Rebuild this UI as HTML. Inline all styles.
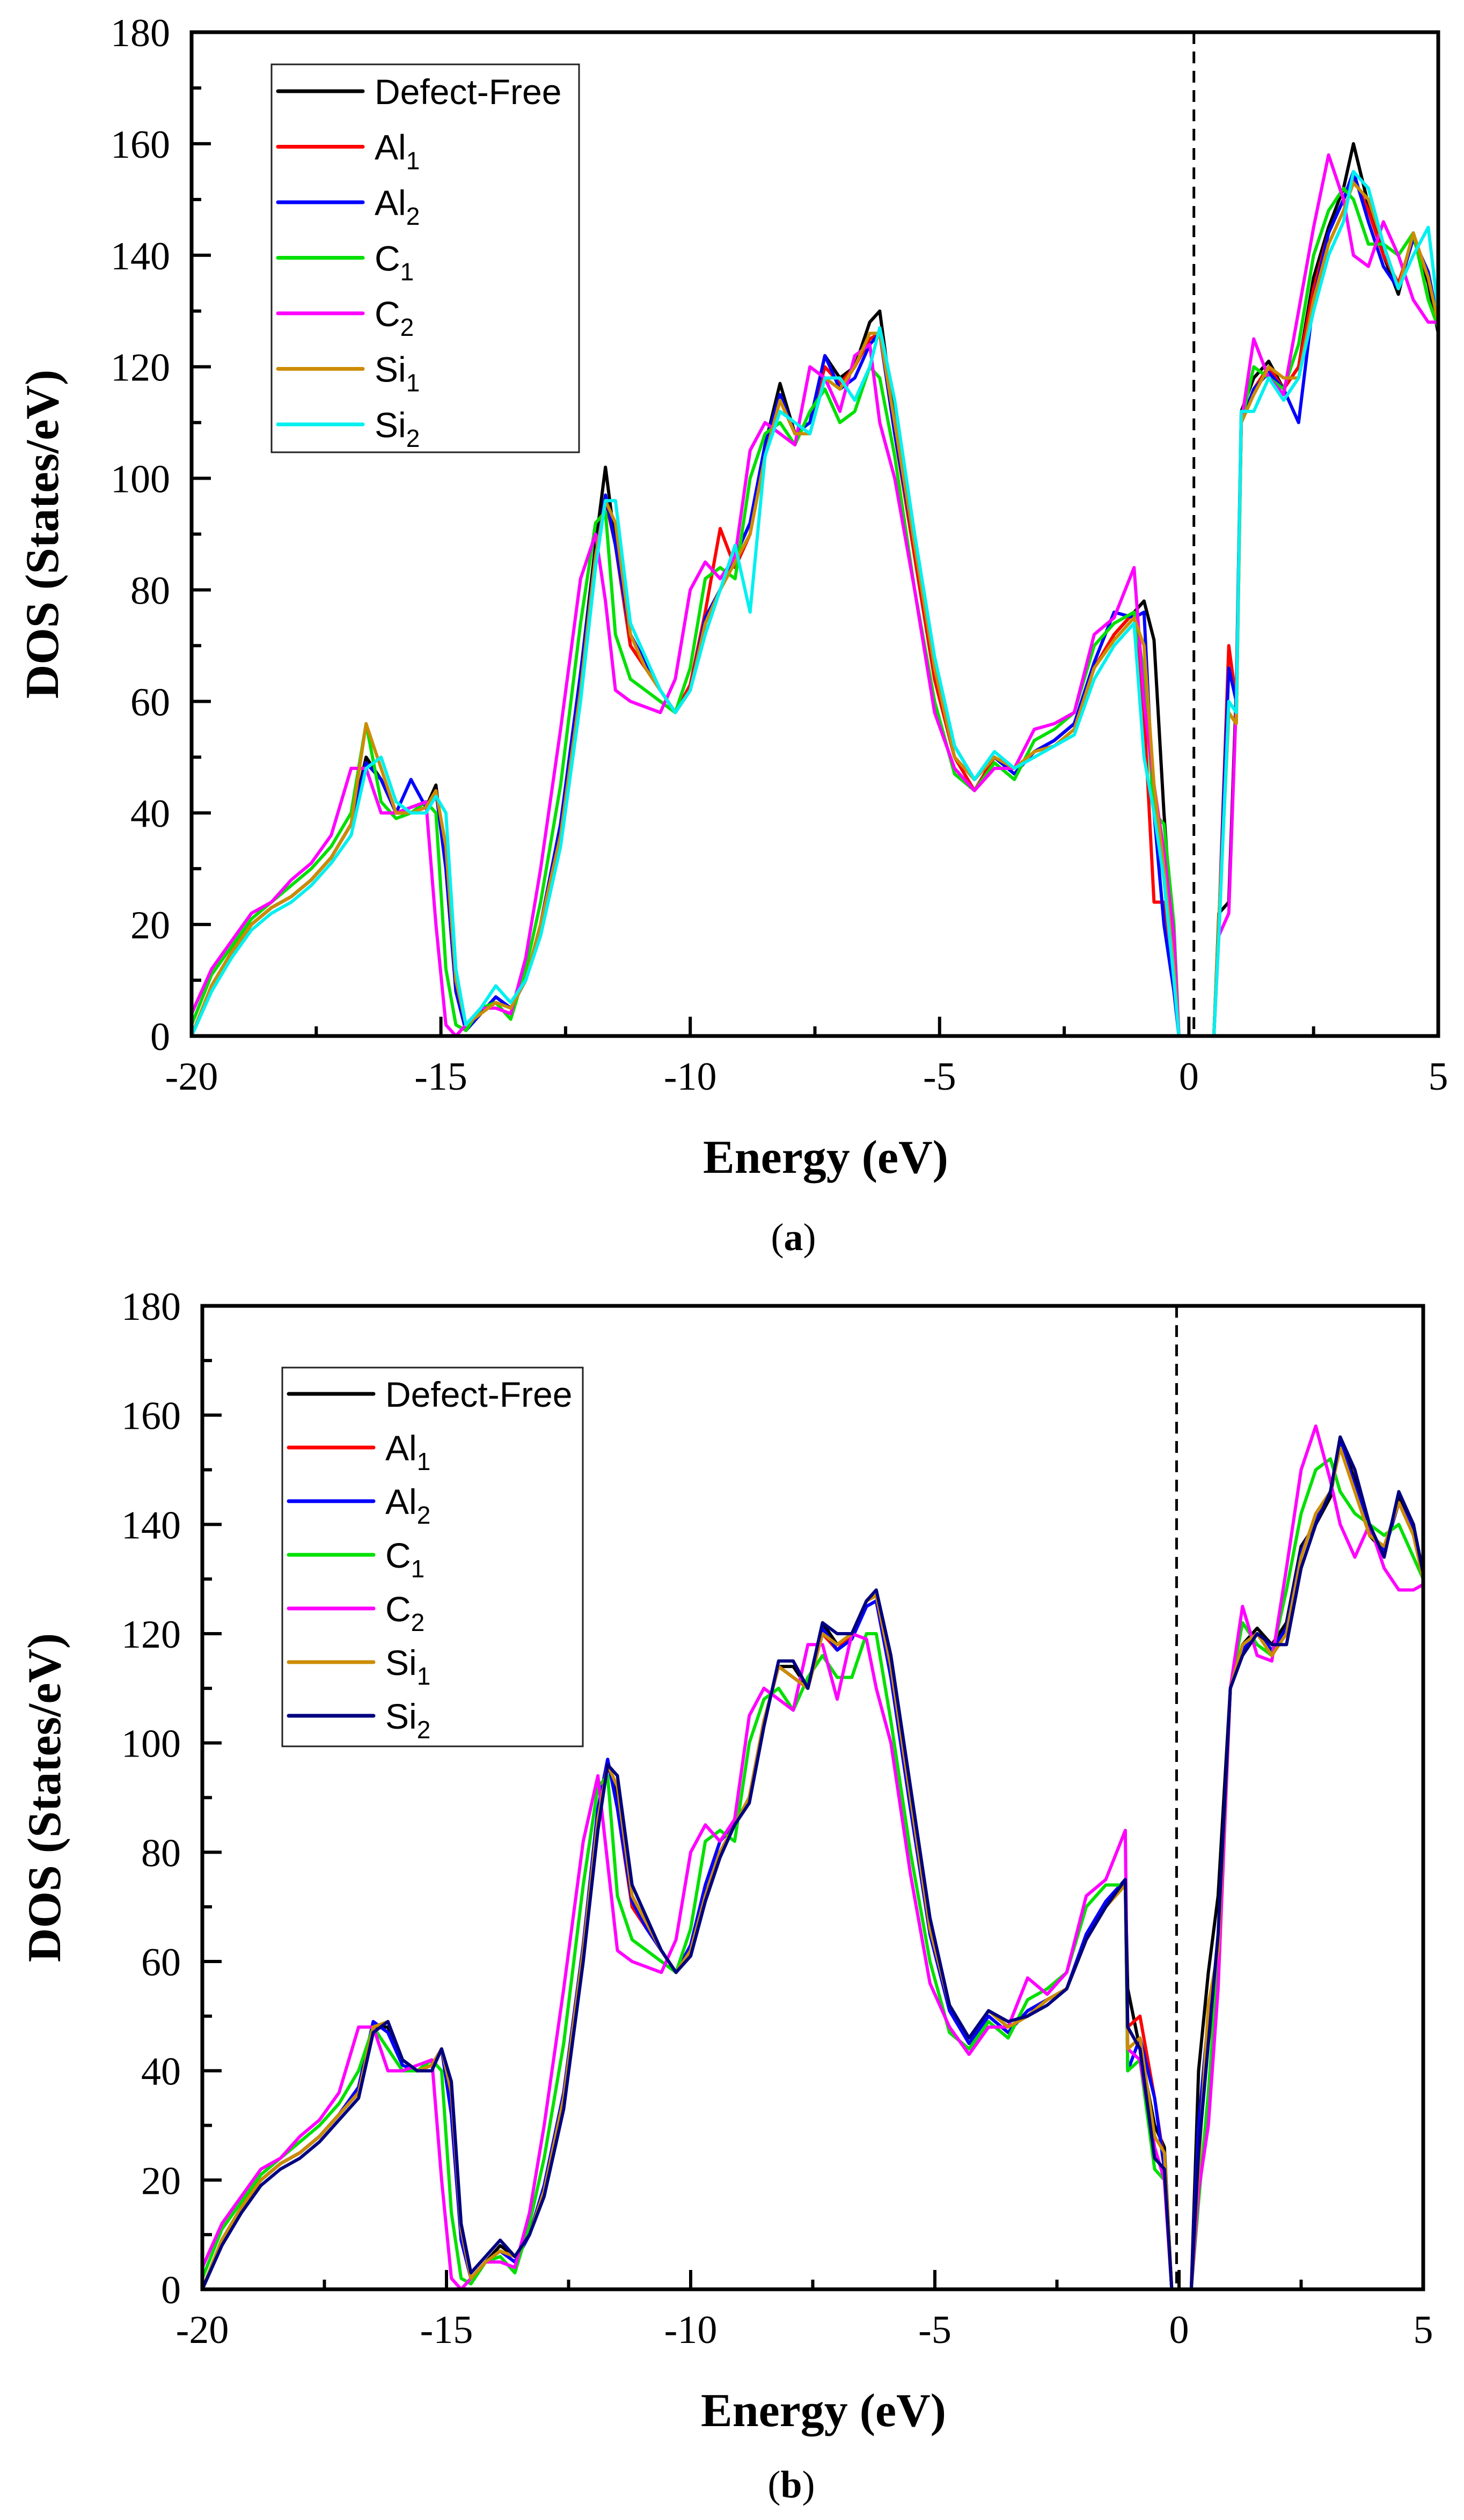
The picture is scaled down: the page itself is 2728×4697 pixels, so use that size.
<!DOCTYPE html>
<html><head><meta charset="utf-8">
<style>
html,body{margin:0;padding:0;background:#fff;}
svg{display:block;}
</style></head>
<body>
<svg id="fig" width="2728" height="4697" viewBox="0 0 2728 4697" xmlns="http://www.w3.org/2000/svg"></svg>
<script>
// ---- Shared energy grids (eV) ----
const gridA = [-20,-19.6,-19.2,-18.8,-18.4,-18,-17.6,-17.2,-16.8,-16.5,-16.2,-15.9,-15.6,-15.3,-15.1,-14.9,-14.7,-14.5,-14.2,-13.9,-13.6,-13.3,-13,-12.6,-12.2,-11.9,-11.7,-11.5,-11.2,-10.9,-10.6,-10.3,-10,-9.7,-9.4,-9.1,-8.8,-8.5,-8.2,-7.9,-7.6,-7.3,-7,-6.7,-6.4,-6.2,-5.9,-5.5,-5.1,-4.7,-4.3,-3.9,-3.5,-3.1,-2.7,-2.3,-1.9,-1.5,-1.1,
 -0.9,-0.7,-0.5,-0.3,-0.2,0.5,0.6,0.8,0.95,1.05,
 1.3,1.6,1.9,2.2,2.5,2.8,3.1,3.3,3.6,3.9,4.2,4.5,4.8,5];
const gridB = [-20,-19.6,-19.2,-18.8,-18.4,-18,-17.6,-17.2,-16.8,-16.5,-16.2,-15.9,-15.6,-15.3,-15.1,-14.9,-14.7,-14.5,-14.2,-13.9,-13.6,-13.3,-13,-12.6,-12.2,-11.9,-11.7,-11.5,-11.2,-10.9,-10.6,-10.3,-10,-9.7,-9.4,-9.1,-8.8,-8.5,-8.2,-7.9,-7.6,-7.3,-7,-6.7,-6.4,-6.2,-5.9,-5.5,-5.1,-4.7,-4.3,-3.9,-3.5,-3.1,-2.7,-2.3,-1.9,-1.5,-1.1,
 -1.05,-0.8,-0.5,-0.3,-0.15,0.25,0.4,0.6,0.8,1.05,
 1.3,1.6,1.9,2.2,2.5,2.8,3.1,3.3,3.6,3.9,4.2,4.5,4.8,5];

// ---- Panel (a) series ----
const aDefectFree = [0,9,15,20,23,25,28,32,38,50,46,40,40,41,45,30,8,1,4,7,5,10,20,38,65,88,102,88,70,66,62,58,62,75,80,86,92,106,117,108,110,122,118,120,128,130,110,86,64,50,46,50,47,51,53,56,66,72,76, 78,71,40,15,0,0,22,24,62,112, 118,121,116,120,136,145,152,160,149,140,133,144,135,126];
const aAl1 = [0,9,15,20,23,25,28,32,38,49,46,40,40,41,44,30,8,1,4,7,5,10,20,38,65,86,96,88,70,66,62,58,63,76,91,84,90,104,114,108,110,120,117,120,125,126,108,86,64,50,44,50,47,51,53,56,66,72,76, 58,24,24,12,0,0,20,70,60,110, 116,120,116,120,134,144,150,154,148,140,135,143,136,128];
const aAl2 = [0,9,15,20,23,25,28,32,38,49,46,40,46,41,44,30,8,1,4,7,5,10,20,38,65,86,97,88,72,67,62,58,62,75,80,86,92,106,115,108,110,122,116,118,124,126,108,88,66,52,46,50,47,51,53,56,67,76,75, 76,40,20,8,0,0,20,66,60,110, 116,119,116,110,132,144,150,155,146,138,134,143,137,128];
const aC1 = [2,11,16,21,24,27,30,34,40,56,42,39,40,42,40,12,2,1,5,6,3,12,24,45,74,92,94,72,64,62,60,58,66,82,84,82,100,108,110,106,112,116,110,112,120,118,104,80,60,47,44,49,46,53,55,58,70,74,76, 65,40,38,20,0,0,20,58,56,110, 120,118,116,124,140,148,152,150,142,142,140,144,132,127];
const aC2 = [4,12,17,22,24,28,31,36,48,48,40,40,41,42,20,2,0,2,5,5,4,14,30,55,82,90,78,62,60,59,58,64,80,85,82,86,105,110,108,106,120,118,112,122,124,110,100,80,58,48,44,48,48,55,56,58,72,75,84, 60,45,33,18,0,0,18,22,60,110, 125,118,115,130,145,158,150,140,138,146,140,132,128,128];
const aSi1 = [0,9,15,20,23,25,28,32,38,56,48,40,40,41,44,34,10,2,4,6,5,10,20,36,62,86,96,92,72,66,62,58,62,74,80,85,90,104,114,108,108,118,116,120,126,126,110,88,66,50,46,50,48,51,52,55,66,71,75, 70,45,30,12,0,0,21,58,56,110, 115,120,118,118,132,142,148,153,150,142,134,144,136,128];
const aSi2 = [0,8,14,19,22,24,27,31,36,48,50,42,40,40,43,40,12,2,5,9,6,10,18,34,60,84,96,96,74,68,62,58,62,72,80,88,76,104,112,110,108,118,118,114,120,127,114,90,68,52,46,51,48,50,52,54,64,70,74, 50,40,28,10,0,0,18,60,58,112, 112,118,114,118,130,140,146,155,152,142,134,140,145,130];

// ---- Panel (b) series ----
const bDefectFree = [0,9,15,20,23,25,28,32,36,48,48,41,40,41,44,34,10,2,5,8,6,10,18,35,62,86,96,90,72,67,62,58,62,72,80,85,90,104,114,114,110,122,118,120,126,127,114,90,66,52,46,51,48,50,53,55,64,70,75, 55,44,30,26,0,0,40,58,72,110, 118,121,118,122,136,140,145,156,148,138,135,145,140,130];
const bAl1 = [0,9,15,20,23,25,28,32,37,49,47,41,40,41,44,32,9,2,5,7,5,10,19,36,63,88,97,88,70,66,62,58,63,74,82,85,90,104,114,112,110,120,117,120,125,126,112,88,65,51,45,50,47,51,53,55,65,71,75, 48,50,35,23,0,0,30,45,60,110, 117,120,117,121,135,141,146,155,147,139,135,144,139,130];
const bAl2 = [0,9,15,20,23,25,28,32,37,49,47,41,40,41,44,32,9,2,5,7,5,10,19,36,63,88,97,88,71,66,62,58,63,74,82,85,90,104,114,112,110,121,117,119,125,126,112,88,65,51,45,50,47,51,53,55,65,71,75, 40,46,35,22,0,0,30,50,62,110, 117,120,117,121,135,141,146,155,147,139,135,144,139,130];
const bC1 = [2,11,16,21,24,27,30,34,40,48,44,40,40,42,40,14,2,1,5,6,3,12,24,45,74,92,94,72,64,62,60,58,66,82,84,82,100,108,110,106,112,116,112,112,120,120,104,80,60,47,44,49,46,53,55,58,70,74,74, 40,42,22,20,0,0,16,36,60,110, 122,118,116,128,142,150,152,146,142,140,138,140,134,130];
const bC2 = [4,12,17,22,24,28,31,36,48,48,40,40,41,42,20,2,0,2,5,5,4,14,30,55,82,94,78,62,60,59,58,64,80,85,82,86,105,110,108,106,118,118,108,120,119,110,100,76,56,48,43,48,48,57,54,58,72,75,84, 44,42,26,20,0,0,18,30,55,110, 125,116,115,132,150,158,148,140,134,140,132,128,128,129];
const bSi1 = [0,9,15,20,23,25,28,32,36,48,49,42,40,41,44,36,11,2,5,7,6,10,18,35,62,86,96,92,72,67,62,58,62,72,80,85,90,104,114,112,110,120,118,120,126,127,114,90,66,52,46,51,48,50,53,55,64,70,74, 44,46,28,25,0,0,22,52,62,110, 118,120,116,120,134,142,146,154,146,138,136,144,138,130];
const bSi2 = [0,8,14,19,22,24,27,31,35,47,49,42,40,40,44,38,12,3,6,9,6,10,17,33,60,84,96,94,74,68,62,58,61,71,79,85,89,103,115,115,110,122,120,120,126,128,116,92,68,52,46,51,49,50,52,55,64,70,75, 48,44,24,22,0,0,25,45,65,110, 116,120,118,118,132,140,146,156,150,140,134,146,140,131];

// ---- Axis tick labels ----
const xTickLabels = [-20,-15,-10,-5,0,5];
const yTickLabels = [0,20,40,60,80,100,120,140,160,180];
const legendNames = ["Defect-Free","Al","Al","C","C","Si","Si"];
const legendSubs = ["","1","2","1","2","1","2"];
const fermiA = 0.1;
const fermiB = -0.05;

const NS = "http://www.w3.org/2000/svg";
const svg = document.getElementById('fig');
function mk(tag, attrs, parent){
  const e = document.createElementNS(NS, tag);
  for (const k in attrs) e.setAttribute(k, attrs[k]);
  (parent||svg).appendChild(e);
  return e;
}

function drawPanel(P){
  const g = mk('g', {});
  
  
  const xs = e => P.L + (e - (-20)) / 25 * (P.R - P.L);
  const ys = v => P.B - v / 180 * (P.B - P.T);

  // series
  const colors = ["#000000","#ff0000","#0000ff","#00e000","#ff00ff","#cc8c00", P.lastColor];
  const sg = mk('g', {}, g);
  
  
  const order = [0,1,2,3,4,5,6];
  order.forEach(i => {
    const vals = P.series[i];
    let d = '';
    const n = Math.min(vals.length, P.grid.length);
    for (let k = 0; k < n; k++) {
      d += (k ? 'L' : 'M') + xs(P.grid[k]).toFixed(1) + ' ' + ys(vals[k]).toFixed(1);
    }
    const p = mk('path', {d: d, fill: 'none', stroke: colors[i], 'stroke-width': 6, 'stroke-linejoin': 'round'}, sg);
    
    
  });

  // fermi dashed line
  const fl = mk('line', {x1: xs(P.fermi), x2: xs(P.fermi), y1: P.T, y2: P.B, stroke: '#000', 'stroke-width': 5, 'stroke-dasharray': '22 14'}, g);
  
  

  // frame
  const fr = mk('rect', {x: P.L, y: P.T, width: P.R - P.L, height: P.B - P.T, fill: 'none', stroke: '#000', 'stroke-width': 7}, g);
  
  

  // x ticks
  for (let e = -20; e <= 5; e += 2.5) {
    const major = Math.abs(e % 5) < 1e-6;
    const t = mk('line', {x1: xs(e), x2: xs(e), y1: P.B, y2: P.B - (major ? 36 : 18), stroke: '#000', 'stroke-width': 6}, g);
    
    
  }
  xTickLabels.forEach(v => {
    const t = mk('text', {x: xs(v), y: P.B + 100, 'text-anchor': 'middle', 'font-family': '"Liberation Serif", serif', 'font-size': 74}, g);
    t.textContent = v;
    
    
  });
  // y ticks
  for (let v = 0; v <= 180; v += 10) {
    const major = v % 20 === 0;
    const t = mk('line', {x1: P.L, x2: P.L + (major ? 36 : 18), y1: ys(v), y2: ys(v), stroke: '#000', 'stroke-width': 6}, g);
    
    
  }
  yTickLabels.forEach(v => {
    const t = mk('text', {x: P.L - 40, y: ys(v) + 26, 'text-anchor': 'end', 'font-family': '"Liberation Serif", serif', 'font-size': 74}, g);
    t.textContent = v;
    
    
  });
  // axis titles
  const xt = mk('text', {x: (P.L + P.R) / 2 + 20, y: P.B + 255, 'text-anchor': 'middle', 'font-family': '"Liberation Serif", serif', 'font-size': 88, 'font-weight': 'bold'}, g);
  xt.textContent = 'Energy (eV)';
  
  
  const cy = (P.T + P.B) / 2;
  const yt = mk('text', {x: 0, y: 0, transform: 'translate(' + (P.ytx) + ',' + cy + ') rotate(-90)', 'text-anchor': 'middle', 'font-family': '"Liberation Serif", serif', 'font-size': 88, 'font-weight': 'bold'}, g);
  yt.textContent = 'DOS (States/eV)';
  
  
  // caption
  const cap = mk('text', {x: (P.L + P.R) / 2 - 40, y: P.capY, 'text-anchor': 'middle', 'font-family': '"Liberation Serif", serif', 'font-size': 72}, g);
  cap.innerHTML = '(<tspan font-weight="bold">' + P.cap + '</tspan>)';
  
  

  // legend
  const lg = mk('g', {}, g);
  
  
  const lb = mk('rect', {x: P.lx, y: P.ly, width: P.lw, height: P.lh, fill: '#fff', stroke: '#222', 'stroke-width': 3}, lg);
  
  
  legendNames.forEach((nm, i) => {
    const ry = P.ly + P.lr0 + i * P.lstep;
    const ln = mk('line', {x1: P.lx + 12, x2: P.lx + 170, y1: ry, y2: ry, stroke: colors[i], 'stroke-width': 7, 'stroke-linecap': 'round'}, lg);
    
    
    const tx = mk('text', {x: P.lx + 192, y: ry + 24, 'font-family': '"Liberation Sans", sans-serif', 'font-size': 66}, lg);
    tx.innerHTML = nm + (legendSubs[i] ? '<tspan font-size="46" dy="18">' + legendSubs[i] + '</tspan>' : '');
    
    
  });
}

drawPanel({name:'panel-a', L:357, R:2680, T:60, B:1931, grid:gridA, fermi:fermiA,
  series:[aDefectFree,aAl1,aAl2,aC1,aC2,aSi1,aSi2], keys:['defect-free','al1','al2','c1','c2','si1','si2'],
  lastColor:'#00f0f0', ytx:108, capY:2330, cap:'a',
  lx:506, ly:120, lw:573, lh:723, lr0:50, lstep:103.5});
drawPanel({name:'panel-b', L:377, R:2652, T:2434, B:4267, grid:gridB, fermi:fermiB,
  series:[bDefectFree,bAl1,bAl2,bC1,bC2,bSi1,bSi2], keys:['defect-free','al1','al2','c1','c2','si1','si2'],
  lastColor:'#000080', ytx:112, capY:4655, cap:'b',
  lx:526, ly:2549, lw:560, lh:706, lr0:49, lstep:100});
</script>
</body></html>
